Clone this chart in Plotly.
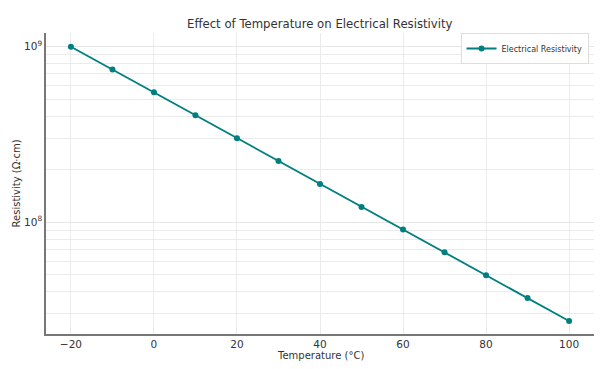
import plotly.graph_objects as go

temperature = [-20, -10, 0, 10, 20, 30, 40, 50, 60, 70, 80, 90, 100]
resistivity = [1.0e9, 7.41e8, 5.49e8, 4.07e8, 3.01e8, 2.23e8, 1.65e8,
               1.22e8, 9.07e7, 6.72e7, 4.98e7, 3.69e7, 2.73e7]
x_ticks = [-20, 0, 20, 40, 60, 80, 100]
x_tick_text = ["\u221220", "0", "20", "40", "60", "80", "100"]
y_ticks = [1e8, 1e9]
y_tick_text = ["10<sup>8</sup>", "10<sup>9</sup>"]
y_minor = [3e7, 4e7, 5e7, 6e7, 7e7, 8e7, 9e7,
           2e8, 3e8, 4e8, 5e8, 6e8, 7e8, 8e8, 9e8]

color = "#007f7f"
font = "DejaVu Sans"

fig = go.Figure()
fig.add_trace(go.Scatter(
    x=temperature, y=resistivity, mode="lines+markers",
    name="Electrical Resistivity",
    line=dict(color=color, width=1.8),
    marker=dict(color=color, size=6),
))

fig.update_layout(
    width=600, height=369,
    paper_bgcolor="white", plot_bgcolor="white",
    margin=dict(l=46, r=6, t=33, b=35),
    font=dict(family=font, size=10, color="#333333"),
    title=dict(text="Effect of Temperature on Electrical Resistivity",
               x=0.533, xanchor="center", y=0.935, yanchor="middle",
               font=dict(size=11.7, color="#333333")),
    showlegend=True,
    legend=dict(x=0.99, xanchor="right", y=1.0, yanchor="top",
                bgcolor="white", bordercolor="#dddddd", borderwidth=1,
                font=dict(size=8, color="#333333")),
    annotations=[
        dict(text="Temperature (°C)", xref="paper", yref="paper",
             x=0.5, y=-0.07, xanchor="center", yanchor="middle",
             showarrow=False, font=dict(size=10, color="#333333")),
        dict(text="Resistivity (Ω·cm)", xref="paper", yref="paper",
             x=-0.053, y=0.5, xanchor="center", yanchor="middle",
             textangle=-90, showarrow=False, font=dict(size=10, color="#333333")),
    ],
)
fig.update_xaxes(
    range=[-26, 106], tickvals=x_ticks, ticktext=x_tick_text,
    showgrid=True, gridcolor="#ebebeb", gridwidth=1,
    showline=True, linecolor="#777777", linewidth=1.5,
    ticks="", zeroline=False, automargin=False,
    tickfont=dict(size=10.5),
)
fig.update_yaxes(
    type="log", range=[7.362, 9.078], tickvals=y_ticks, ticktext=y_tick_text,
    showgrid=True, gridcolor="#e6e6e6", gridwidth=1,
    minor=dict(tickvals=y_minor, showgrid=True, gridcolor="#ebebeb", gridwidth=1, ticks=""),
    showline=True, linecolor="#777777", linewidth=1.5,
    ticks="", zeroline=False, automargin=False,
    tickfont=dict(size=10.5),
)

fig.write_html("out.html", config={"displayModeBar": False},
               post_script="document.body.style.margin='0';")
